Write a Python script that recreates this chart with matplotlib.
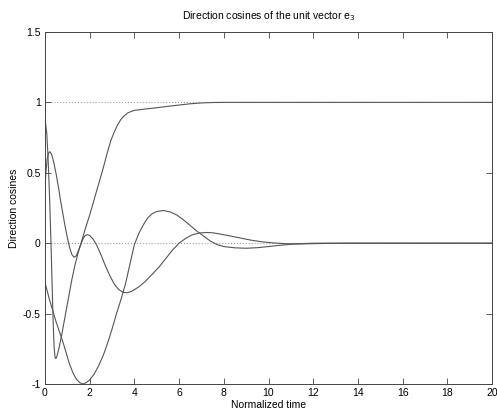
import matplotlib
matplotlib.use('Agg')
import matplotlib.pyplot as plt
import numpy as np

plt.rcParams['font.family'] = ['Liberation Sans', 'DejaVu Sans']

# direction cosine: the one settling at 1
t_a = [0, 0.02, 0.08, 0.14, 0.2, 0.26, 0.32, 0.37, 0.41, 0.45, 0.49, 0.54, 0.62,
       0.75, 0.9, 1.05, 1.2, 1.35, 1.5, 1.65, 1.8, 2.0, 2.2, 2.4, 2.6, 2.8, 2.95,
       3.1, 3.25, 3.4, 3.55, 3.7, 3.85, 4.0, 4.5, 5.0, 5.5, 6.0, 6.5, 7.0, 7.5,
       8.0, 20]
e_a = [1.08, 0.86, 0.78, 0.6, 0.35, 0.05, -0.3, -0.58, -0.74, -0.81, -0.82, -0.8,
       -0.75, -0.65, -0.52, -0.39, -0.26, -0.15, -0.06, 0.02, 0.1, 0.2, 0.31, 0.42,
       0.53, 0.65, 0.73, 0.79, 0.84, 0.88, 0.905, 0.925, 0.935, 0.943, 0.953,
       0.962, 0.972, 0.981, 0.99, 0.996, 0.999, 1.0, 1.0]

# the one reaching -1
t_b = [0, 0.1, 0.2, 0.35, 0.5, 0.65, 0.8, 0.95, 1.1, 1.25, 1.4, 1.55, 1.7, 1.85,
       2.0, 2.2, 2.4, 2.6, 2.8, 3.0, 3.2, 3.4, 3.6, 3.8, 4.0, 4.2, 4.4, 4.6, 4.8,
       5.0, 5.3, 5.6, 5.9, 6.2, 6.5, 6.8, 7.1, 7.4, 7.7, 8.0, 8.5, 9.0, 9.5, 10.0,
       10.5, 11.0, 11.5, 12.0, 20]
e_b = [-0.28, -0.34, -0.4, -0.48, -0.56, -0.63, -0.7, -0.78, -0.86, -0.92, -0.965,
       -0.99, -1.0, -0.99, -0.97, -0.93, -0.87, -0.8, -0.71, -0.61, -0.5, -0.4,
       -0.29, -0.15, -0.01, 0.07, 0.13, 0.18, 0.21, 0.225, 0.232, 0.222, 0.2, 0.165,
       0.125, 0.085, 0.05, 0.015, -0.01, -0.024, -0.033, -0.036, -0.032, -0.024,
       -0.015, -0.008, -0.003, 0.0, 0.0]

# the one with the early peak
t_c = [0, 0.05, 0.1, 0.16, 0.22, 0.3, 0.4, 0.5, 0.6, 0.7, 0.8, 0.9, 1.0, 1.1, 1.2,
       1.3, 1.4, 1.5, 1.6, 1.7, 1.8, 1.9, 2.0, 2.15, 2.3, 2.5, 2.7, 2.9, 3.1, 3.3,
       3.5, 3.7, 3.9, 4.2, 4.5, 4.8, 5.1, 5.4, 5.7, 6.0, 6.3, 6.6, 6.9, 7.2, 7.5,
       7.8, 8.2, 8.7, 9.2, 9.7, 10.2, 10.8, 11.5, 12.5, 13.5, 20]
e_c = [0.4, 0.52, 0.6, 0.64, 0.65, 0.63, 0.57, 0.49, 0.4, 0.3, 0.21, 0.12, 0.04,
       -0.03, -0.08, -0.1, -0.09, -0.05, -0.01, 0.03, 0.055, 0.06, 0.055, 0.03,
       -0.01, -0.08, -0.16, -0.23, -0.29, -0.33, -0.35, -0.352, -0.34, -0.31,
       -0.27, -0.22, -0.17, -0.11, -0.05, 0.0, 0.035, 0.06, 0.072, 0.076, 0.074,
       0.066, 0.054, 0.038, 0.022, 0.01, 0.002, -0.004, -0.005, -0.002, 0.0, 0.0]

xticks = list(range(0, 21, 2))
yticks = [-1, -0.5, 0, 0.5, 1, 1.5]
ylabels = ['-1', '-0.5', '0', '0.5', '1', '1.5']

fig = plt.figure(figsize=(4.97, 4.15), dpi=100)
ax = fig.add_axes([0.0905, 0.0747, 0.8995, 0.8483])

ax.axhline(0, color='#9a9ad0', ls=':', lw=0.8, zorder=1)
ax.axhline(1, color='#9a9ad0', ls=':', lw=0.8, zorder=1)

lc = '#555555'
ax.plot(t_a, e_a, color=lc, lw=0.8)
ax.plot(t_b, e_b, color=lc, lw=0.8)
ax.plot(t_c, e_c, color=lc, lw=0.8)

ax.set_xlim(0, 20)
ax.set_ylim(-1, 1.5)
ax.set_xticks(xticks)
ax.set_yticks(yticks)
ax.set_yticklabels(ylabels)
ax.tick_params(direction='in', length=4, width=0.6, color='#444444',
               top=True, right=True, labelsize=7.5, pad=3)
for s in ax.spines.values():
    s.set_color('#444444')
    s.set_linewidth(0.7)

ax.set_title('Direction cosines of the unit vector e$_3$', fontsize=7.5, pad=9)
ax.set_xlabel('Normalized time', fontsize=7.5, labelpad=1)
ax.set_ylabel('Direction cosines', fontsize=7.5, labelpad=3)

fig.savefig('out.png', dpi=100)
